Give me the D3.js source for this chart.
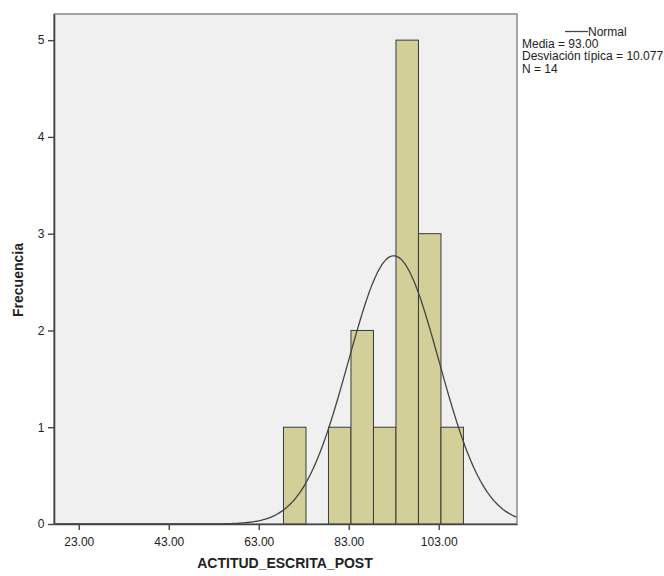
<!DOCTYPE html>
<html>
<head>
<meta charset="utf-8">
<script src="https://cdn.jsdelivr.net/npm/d3@7"></script>
<style>
  html, body { margin: 0; padding: 0; background: #ffffff; }
  svg { display: block; }
  text { font-family: "Liberation Sans Narrow", "Liberation Sans", Arial, sans-serif; fill: #222; }
</style>
</head>
<body>
<svg id="chart" width="664" height="576"></svg>
<script>
// Histogram bins (lower edge, upper edge) and frequencies
const binStarts = [68.5, 73.5, 78.5, 83.5, 88.5, 93.5, 98.5, 103.5];
const binWidth = 5;
const frequencies = [1, 0, 1, 2, 1, 5, 3, 1];

// Summary statistics for the fitted normal curve
const mean = 93.00;
const sd = 10.077;
const n = 14;

const xTicks = [23, 43, 63, 83, 103];
const yTicks = [0, 1, 2, 3, 4, 5];
const legendLines = ["Media = 93.00", "Desviación típica = 10.077", "N = 14"];

const svg = d3.select("#chart");
const plot = { left: 54, top: 14, right: 517, bottom: 524 };

const x = d3.scaleLinear().domain([17.5, 120.4]).range([plot.left, plot.right]);
const y = d3.scaleLinear().domain([0, 5.27]).range([plot.bottom, plot.top]);

// Plot background and frame
svg.append("rect")
  .attr("x", plot.left).attr("y", plot.top)
  .attr("width", plot.right - plot.left).attr("height", plot.bottom - plot.top)
  .attr("fill", "#f0f0f0").attr("stroke", "#8a8a8a").attr("stroke-width", 1.5);

// Bars
const bins = binStarts.map((s, i) => ({ x0: s, x1: s + binWidth, f: frequencies[i] }))
  .filter(d => d.f > 0);
svg.append("g").selectAll("rect").data(bins).join("rect")
  .attr("x", d => x(d.x0))
  .attr("y", d => y(d.f))
  .attr("width", d => x(d.x1) - x(d.x0))
  .attr("height", d => y(0) - y(d.f))
  .attr("fill", "#d3cf98")
  .attr("stroke", "#3a3a3a")
  .attr("stroke-width", 1);

// Normal curve scaled to counts
const pdf = v => Math.exp(-0.5 * ((v - mean) / sd) ** 2) / (sd * Math.sqrt(2 * Math.PI));
const curvePts = d3.range(x.domain()[0], x.domain()[1] + 0.01, 0.25)
  .map(v => [v, n * binWidth * pdf(v)]);
svg.append("path")
  .datum(curvePts)
  .attr("fill", "none")
  .attr("stroke", "#444")
  .attr("stroke-width", 1.3)
  .attr("d", d3.line().x(d => x(d[0])).y(d => y(d[1])).curve(d3.curveBasis));

// Axes
const xAxis = svg.append("g")
  .attr("transform", `translate(0,${plot.bottom})`)
  .call(d3.axisBottom(x).tickValues(xTicks).tickFormat(d3.format(".2f")).tickSize(6).tickSizeOuter(0));
const yAxis = svg.append("g")
  .attr("transform", `translate(${plot.left},0)`)
  .call(d3.axisLeft(y).tickValues(yTicks).tickFormat(d3.format("d")).tickSize(6).tickSizeOuter(0));

[xAxis, yAxis].forEach(g => {
  g.select(".domain").attr("stroke", "#444").attr("stroke-width", 1.6);
  g.selectAll(".tick line").attr("stroke", "#444").attr("stroke-width", 1.4);
  g.selectAll(".tick text").attr("fill", "#222").style("font-size", "12px")
    .style("font-family", "'Liberation Sans Narrow', 'Liberation Sans', Arial, sans-serif");
});
xAxis.selectAll(".tick text").attr("dy", "1.1em");
yAxis.selectAll(".tick text").attr("dx", "-0.05em");

// Axis titles
svg.append("text")
  .attr("x", 285).attr("y", 568)
  .attr("text-anchor", "middle")
  .style("font-family", "'Liberation Sans', Arial, sans-serif")
  .style("font-size", "14px").style("font-weight", "bold")
  .text("ACTITUD_ESCRITA_POST");
svg.append("text")
  .attr("transform", "translate(23,280) rotate(-90)")
  .attr("text-anchor", "middle")
  .style("font-family", "'Liberation Sans', Arial, sans-serif")
  .style("font-size", "14px").style("font-weight", "bold")
  .text("Frecuencia");

// Legend
const leg = svg.append("g");
leg.append("line")
  .attr("x1", 565).attr("x2", 588).attr("y1", 31.5).attr("y2", 31.5)
  .attr("stroke", "#444").attr("stroke-width", 1.3);
leg.append("text").attr("x", 588).attr("y", 35.5)
  .style("font-size", "12px").text("Normal");
leg.selectAll("text.stat").data(legendLines).join("text")
  .attr("class", "stat")
  .attr("x", 522)
  .attr("y", (d, i) => 47.5 + i * 12.5)
  .style("font-size", "12px")
  .text(d => d);
</script>
</body>
</html>
